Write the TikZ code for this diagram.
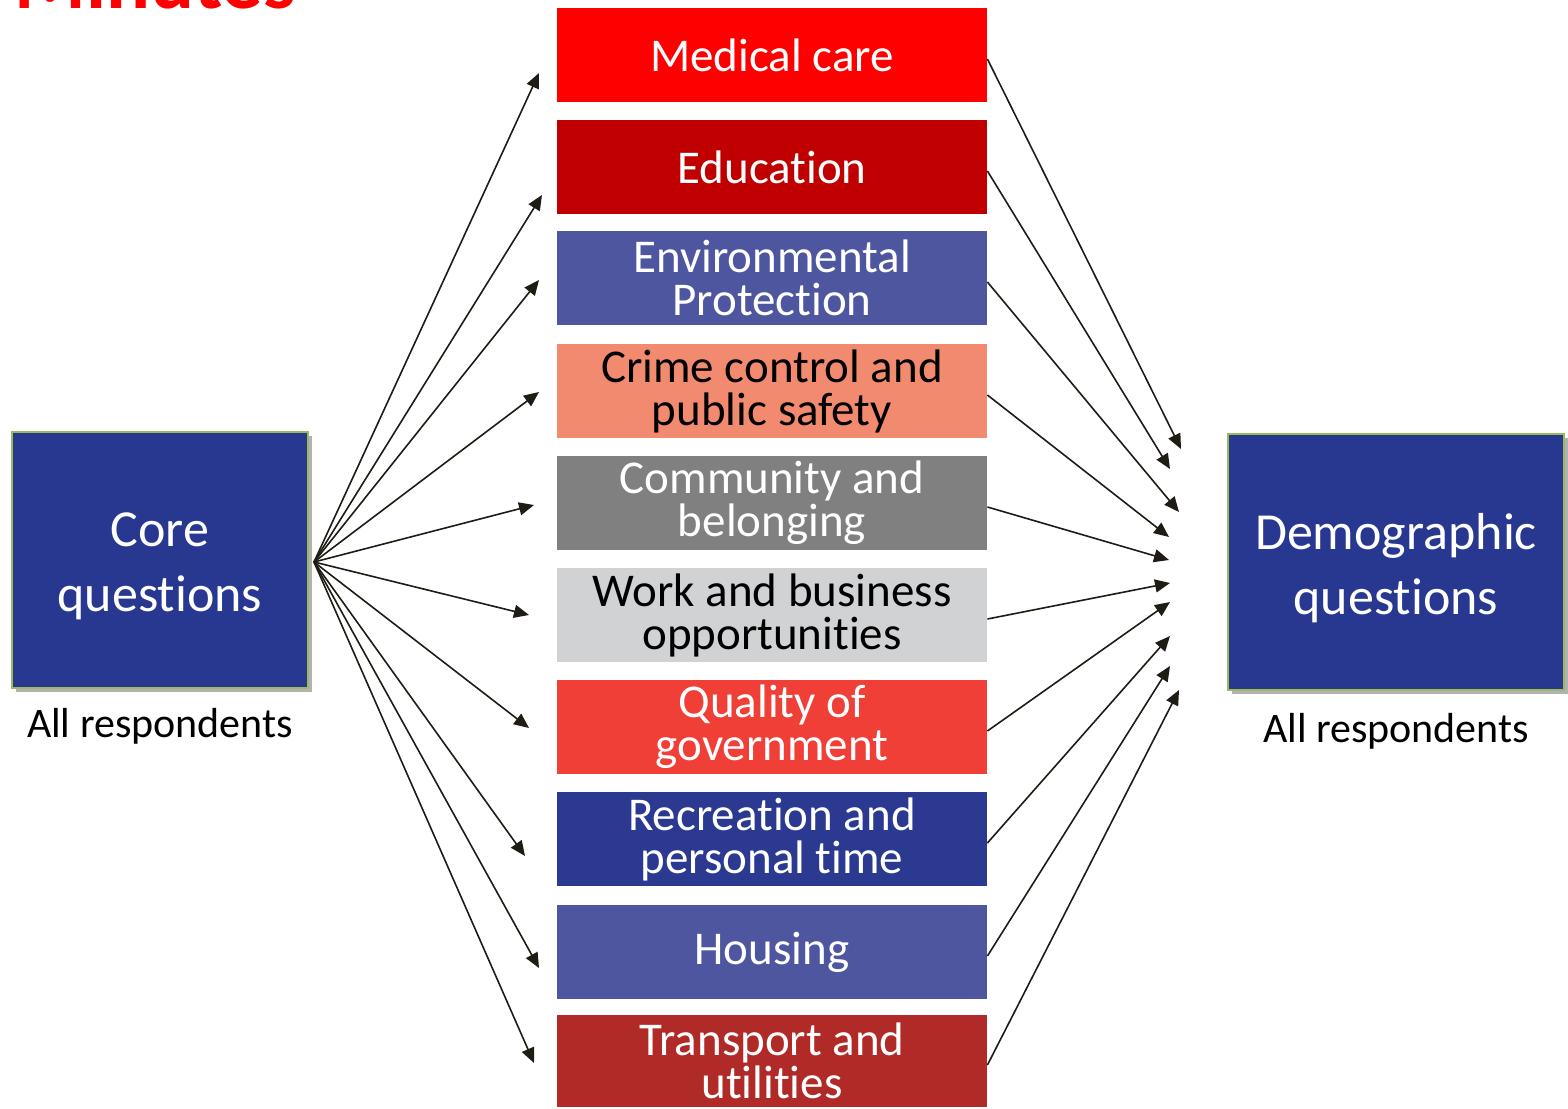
\documentclass[tikz,border=0pt]{standalone}
\usepackage{fontspec}
\setmainfont{Carlito}[Ligatures=CommonOff]
\usetikzlibrary{arrows.meta,shadows}

\definecolor{c-med}{HTML}{FF0000}
\definecolor{c-edu}{HTML}{C00000}
\definecolor{c-env}{HTML}{4F56A0}
\definecolor{c-crime}{HTML}{F28A70}
\definecolor{c-comm}{HTML}{808080}
\definecolor{c-work}{HTML}{D1D2D4}
\definecolor{c-qual}{HTML}{EF3F37}
\definecolor{c-rec}{HTML}{2B3990}
\definecolor{c-house}{HTML}{4F56A0}
\definecolor{c-trans}{HTML}{B02A27}
\definecolor{qblue}{HTML}{283891}
\definecolor{qgreen}{HTML}{9BBB59}
\definecolor{arrblk}{HTML}{1E1C14}
\setlength{\lineskiplimit}{-100pt}

\begin{document}
\begin{tikzpicture}[x=0.5pt,y=-0.5pt,
    topic/.style={minimum width=215pt,minimum height=47pt,inner sep=0pt,align=center,text=white,font=\fontsize{23.5}{21.5}\selectfont},
    qbox/.style={draw=qgreen,line width=1pt,fill=qblue,inner sep=0pt,drop shadow={shadow xshift=2pt,shadow yshift=-2pt,opacity=0.3,fill=black}},
    qtext/.style={text=white,inner sep=0pt,align=center,font=\fontsize{26}{32.5}\selectfont},
    resp/.style={anchor=base,inner sep=0pt,font=\fontsize{21}{25}\selectfont},
    arr/.style={-{Triangle[length=7.5pt,width=6.5pt]},line width=0.8pt,color=arrblk}]

    \useasboundingbox (0,0) rectangle (1568,1108);
    \clip (0,0) rectangle (1568,1108);

    \node[anchor=base west,inner sep=0pt,text=c-med,font=\bfseries\fontsize{41}{49}\selectfont] (title) at (14,9) {Minutes};

    % topic boxes
    \node[topic,fill=c-med] (med) at (772,55) {Medical care};
    \node[topic,fill=c-edu] (edu) at (772,167) {Education};
    \node[topic,fill=c-env] (env) at (772,278) {Environmental\\Protection};
    \node[topic,fill=c-crime,text=black] (crime) at (772,391) {Crime control and\\public safety};
    \node[topic,fill=c-comm] (comm) at (772,503) {Community and\\belonging};
    \node[topic,fill=c-work,text=black] (work) at (772,615) {Work and business\\opportunities};
    \node[topic,fill=c-qual] (qual) at (772,727) {Quality of\\government};
    \node[topic,fill=c-rec] (rec) at (772,839) {Recreation and\\personal time};
    \node[topic,fill=c-house] (house) at (772,952) {Housing};
    \node[topic,fill=c-trans,minimum height=46pt] (trans) at (772,1061) {Transport and\\utilities};

    % question blocks
    \node[qbox,minimum width=148pt,minimum height=128pt] (core) at (160,560) {};
    \node[qtext] (coretext) at ([yshift=-3pt]core.center) {Core\\questions};
    \node[qbox,minimum width=168pt,minimum height=128pt] (demo) at (1396,562) {};
    \node[qtext] (demotext) at ([yshift=-3pt]demo.center) {Demographic\\questions};
    \node[resp] (coreresp) at (160,737) {All respondents};
    \node[resp] (demoresp) at (1396,742) {All respondents};

    \coordinate (hub) at ([shift={(5,2)}]core.east);

    \foreach \n/\x/\y in {med/539/73,edu/542/195,env/539/280,crime/539/392,comm/534/505,work/529/615,qual/529/728,rec/525/856,house/539/968,trans/534/1063}{
        \coordinate (in-\n) at (\x,\y);
        \draw[arr] (hub) -- (in-\n);
    }
    \foreach \n/\x/\y in {med/1181/449,edu/1170/469,env/1179/512,crime/1169/537,comm/1169/560,work/1170/583,qual/1170/602,rec/1170/636,house/1170/666,trans/1179/690}{
        \coordinate (out-\n) at (\x,\y);
        \draw[arr] ([yshift=-2pt]\n.east) -- (out-\n);
    }
\end{tikzpicture}
\end{document}
